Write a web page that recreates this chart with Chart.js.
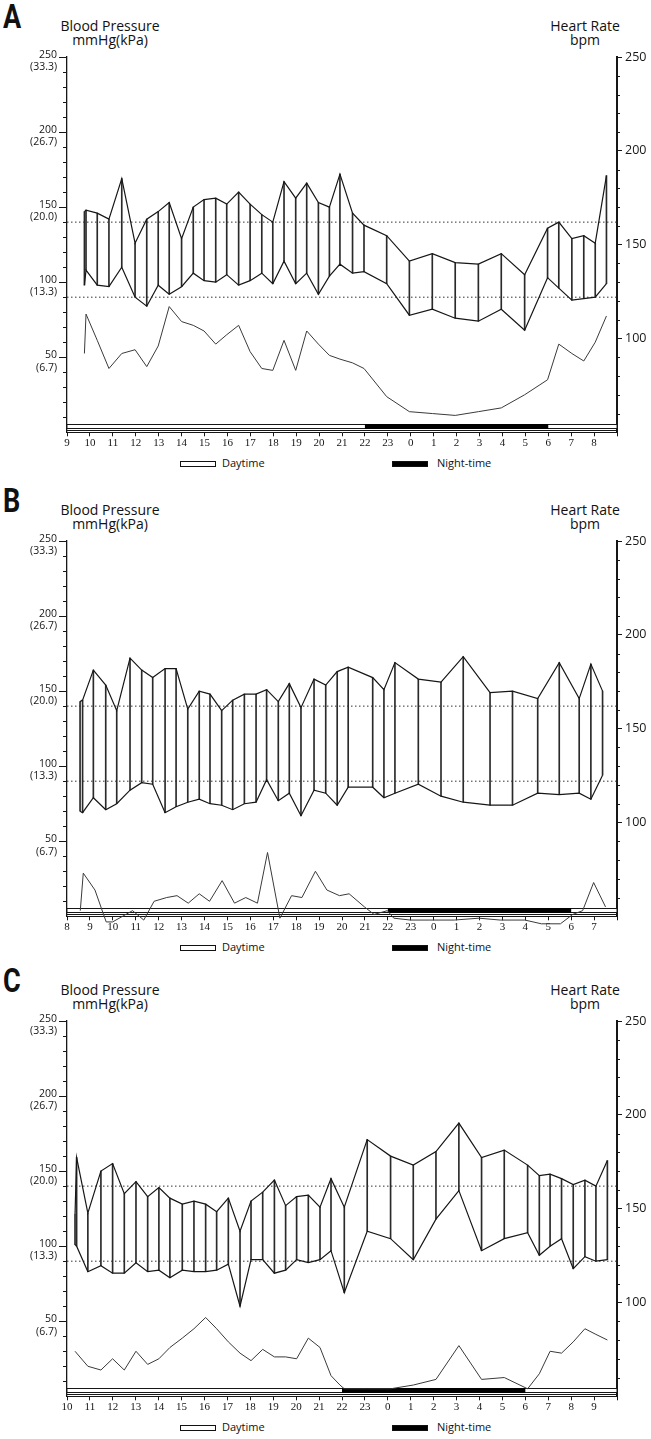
<!DOCTYPE html>
<html lang="en">
<head>
<meta charset="UTF-8">
<title>Ambulatory Blood Pressure and Heart Rate</title>
<style>
  html, body { margin: 0; padding: 0; background: #fff; }
  body {
    width: 651px; height: 1439px; position: relative; overflow: hidden;
    font-family: "Open Sans", "DejaVu Sans", sans-serif; color: #111;
  }
  .panel { position: absolute; left: 0; width: 651px; height: 484px; }
  .panel canvas { position: absolute; left: 0; top: 0; }
  .letter {
    position: absolute; left: 3px; top: -3px;
    font: bold 33px "Roboto", sans-serif; transform: scaleX(0.82); transform-origin: left top;
  }
  .ttl { position: absolute; top: 19px; width: 130px; font-size: 14px; line-height: 14px; text-align: center; }
  .lg { position: absolute; top: 456px; font-size: 11px; line-height: 14px; }
  .box { position: absolute; top: 461px; width: 34px; height: 4px; border: 1px solid #111; }
</style>
</head>
<body>
<script src="https://cdn.jsdelivr.net/npm/chart.js"></script>
<script>
  // ---- panel A (starts 09:00) ----
  const aTimes = [9.76, 9.83, 10.32, 10.83, 11.39, 11.97, 12.48, 12.98, 13.46, 14.0, 14.51, 14.98, 15.49, 15.97, 16.49, 16.99, 17.5, 17.98, 18.47, 18.98, 19.46, 19.97, 20.45, 20.91, 21.46, 21.96, 22.95, 23.94, 24.94, 25.94, 26.95, 27.95, 28.97, 29.97, 30.46, 31.03, 31.55, 32.05, 32.54];
  const aSys = [147, 148, 146, 142, 169, 126, 142, 147, 153, 129, 150, 155, 156, 152, 160, 152, 145, 140, 167, 156, 166, 153, 150, 172, 146, 138, 131, 114, 119, 113, 112, 119, 105, 136, 140, 129, 131, 126, 171];
  const aDia = [98, 108, 98, 97, 110, 90, 84, 98, 92, 97, 106, 101, 100, 105, 98, 101, 106, 99, 114, 99, 106, 92, 104, 112, 106, 107, 99, 78, 82, 76, 74, 82, 68, 103, 96, 88, 89, 90, 99];
  const aHr = [92, 113, 99, 84, 92, 94, 85, 96, 117, 109, 107, 104, 97, 102, 107, 93, 84, 83, 99, 83, 104, 97, 91, 89, 87, 84, 69, 61, 60, 59, 61, 63, 70, 78, 97, 92, 88, 98, 112];

  // ---- panel B (starts 08:00) ----
  const bTimes = [8.57, 8.68, 9.15, 9.69, 10.17, 10.75, 11.26, 11.74, 12.28, 12.76, 13.27, 13.77, 14.24, 14.75, 15.23, 15.74, 16.25, 16.71, 17.22, 17.70, 18.21, 18.78, 19.29, 19.79, 20.27, 21.34, 21.83, 22.31, 23.33, 24.32, 25.29, 26.46, 27.44, 28.54, 29.48, 30.35, 30.86, 31.37];
  const bSys = [143, 144, 164, 154, 137, 172, 164, 159, 165, 165, 138, 150, 148, 137, 144, 148, 148, 151, 143, 155, 139, 158, 154, 163, 166, 159, 151, 169, 158, 156, 173, 149, 150, 145, 169, 145, 168, 150];
  const bDia = [70, 69, 79, 71, 75, 84, 89, 88, 69, 73, 76, 78, 75, 74, 71, 75, 76, 91, 77, 82, 67, 84, 82, 74, 86, 86, 79, 82, 88, 80, 76, 74, 74, 82, 81, 82, 78, 94];
  const bHrTimes = [8.58, 8.71, 9.22, 9.71, 9.99, 10.86, 11.35, 11.8, 12.35, 12.8, 13.29, 13.77, 14.22, 14.77, 15.31, 15.8, 16.31, 16.75, 17.29, 17.8, 18.25, 18.84, 19.34, 19.89, 20.31, 20.98, 21.4, 21.98, 22.26, 22.98, 23.8, 24.9, 25.98, 26.9, 27.98, 28.7, 29.53, 30.07, 30.5, 30.98, 31.5];
  const bHr = [53, 73, 64, 47, 47, 53, 48, 58, 60, 61, 57, 62, 58, 69, 57, 60, 57, 84, 49, 61, 60, 74, 64, 61, 62, 55, 51, 53, 49, 48, 48, 48, 49, 48, 48, 46, 46, 51, 53, 68, 55];

  // ---- panel C (starts 10:00) ----
  const cTimes = [10.35, 10.42, 10.91, 11.48, 11.99, 12.5, 13.01, 13.52, 14.01, 14.49, 15.03, 15.54, 16.05, 16.53, 17.04, 17.55, 18.03, 18.54, 19.05, 19.54, 20.02, 20.53, 21.04, 21.52, 22.1, 23.1, 24.12, 25.11, 26.1, 27.1, 28.09, 29.08, 30.1, 30.61, 31.08, 31.58, 32.09, 32.6, 33.08, 33.58];
  const cSys = [121, 159, 122, 150, 155, 135, 143, 133, 139, 132, 128, 130, 128, 123, 132, 110, 130, 136, 144, 127, 133, 134, 126, 145, 126, 171, 160, 154, 163, 182, 159, 164, 154, 147, 148, 145, 141, 144, 140, 157];
  const cDia = [101, 100, 83, 87, 82, 82, 89, 83, 84, 79, 84, 83, 83, 84, 88, 60, 91, 91, 82, 84, 91, 89, 91, 97, 69, 110, 105, 91, 118, 137, 97, 105, 109, 94, 100, 105, 85, 93, 90, 91];
  const cHrTimes = [10.35, 10.91, 11.48, 11.99, 12.5, 13.01, 13.52, 14.01, 14.49, 15.03, 15.54, 16.05, 16.53, 17.04, 17.55, 18.03, 18.54, 19.05, 19.54, 20.02, 20.53, 21.04, 21.52, 21.91, 22.1, 23.1, 24.12, 25.11, 26.1, 27.1, 28.09, 29.08, 30.1, 30.61, 31.08, 31.58, 32.09, 32.6, 33.08, 33.58];
  const cHr = [74, 66, 64, 70, 64, 74, 67, 70, 76, 81, 86, 92, 86, 79, 73, 69, 75, 71, 71, 70, 81, 76, 61, 56, 54, 54, 54, 56, 59, 77, 59, 60, 54, 62, 74, 73, 79, 86, 83, 80];

  const bpThresholds = [140, 90];     // dotted reference lines, mmHg
  const nightHours = [22, 30];        // 22:00 -> 06:00 next day
  const bpTicks = [50, 100, 150, 200, 250];
  const kpaLabels = ['(6.7)', '(13.3)', '(20.0)', '(26.7)', '(33.3)'];
  const hrTicks = [100, 150, 200, 250];

  const panels = [
    { letter: 'A', top: 0,   start: 9,  times: aTimes, sys: aSys, dia: aDia, hrTimes: aTimes,   hr: aHr },
    { letter: 'B', top: 484, start: 8,  times: bTimes, sys: bSys, dia: bDia, hrTimes: bHrTimes, hr: bHr },
    { letter: 'C', top: 964, start: 10, times: cTimes, sys: cSys, dia: cDia, hrTimes: cHrTimes, hr: cHr }
  ];

  const INK = '#161616';

  // time bar + minor ticks drawn from the chart's own scales
  const decor = {
    id: 'decor',
    beforeDatasetsDraw(chart) {
      const { ctx, chartArea: a, scales: { x, y, y2 } } = chart;
      ctx.save();
      ctx.strokeStyle = INK;
      ctx.lineWidth = 1;
      const bt = Math.round(a.bottom) - 7.5;
      ctx.fillStyle = '#fff';
      ctx.fillRect(a.left, bt, a.right - a.left, 4);
      ctx.strokeRect(a.left, bt, a.right - a.left, 4);
      const n0 = x.getPixelForValue(nightHours[0]), n1 = x.getPixelForValue(nightHours[1]);
      ctx.fillStyle = '#000';
      ctx.fillRect(n0, bt - 0.5, n1 - n0, 5);
      ctx.beginPath();
      ctx.moveTo(a.left, bt + 6); ctx.lineTo(a.right, bt + 6);
      ctx.stroke();
      // minor ticks
      ctx.beginPath();
      for (let v = 10; v < 250; v += 10) {
        if (v % 50 === 0) continue;
        const py = Math.round(y.getPixelForValue(v)) + 0.5;
        ctx.moveTo(a.left - 4, py); ctx.lineTo(a.left, py);
      }
      for (let v = 60; v < 250; v += 10) {
        if (v % 50 === 0) continue;
        const py = Math.round(y2.getPixelForValue(v)) + 0.5;
        ctx.moveTo(a.right, py); ctx.lineTo(a.right + 3, py);
      }
      ctx.stroke();
      ctx.restore();
    }
  };

  function makePanel(p) {
    const div = document.createElement('div');
    div.className = 'panel';
    div.style.top = p.top + 'px';
    div.innerHTML =
      '<div class="letter">' + p.letter + '</div>' +
      '<div class="ttl" style="left:45px">Blood Pressure<br>mmHg(kPa)</div>' +
      '<div class="ttl" style="left:520px">Heart Rate<br>bpm</div>' +
      '<div class="box" style="left:180px;background:#fff"></div>' +
      '<div class="lg" style="left:222px">Daytime</div>' +
      '<div class="box" style="left:392px;background:#000"></div>' +
      '<div class="lg" style="left:437px">Night-time</div>';
    const cv = document.createElement('canvas');
    cv.width = 651; cv.height = 455;
    div.appendChild(cv);
    document.body.appendChild(div);

    const end = p.start + 24;
    const lineDs = (data, axis, extra) => Object.assign({
      type: 'line', data, yAxisID: axis, borderColor: INK, borderWidth: 1.2,
      pointRadius: 0, tension: 0, fill: false
    }, extra || {});

    const datasets = [
      {
        type: 'bar', yAxisID: 'y', order: 5,
        data: p.times.map((t, i) => ({ x: t, y: [p.dia[i], p.sys[i]] })),
        backgroundColor: '#2a2a2a', barThickness: 1, grouped: false
      },
      lineDs(p.times.map((t, i) => ({ x: t, y: p.sys[i] })), 'y'),
      lineDs(p.times.map((t, i) => ({ x: t, y: p.dia[i] })), 'y'),
      lineDs(p.hrTimes.map((t, i) => ({ x: t, y: p.hr[i] })), 'y2', { borderColor: '#3a3a3a', borderWidth: 1, clip: false })
    ];
    bpThresholds.forEach(v => datasets.push(lineDs(
      [{ x: p.start, y: v }, { x: end, y: v }], 'y',
      { borderColor: '#333', borderWidth: 1, borderDash: [1.5, 2.5] })));

    new Chart(cv.getContext('2d'), {
      type: 'line',
      data: { datasets },
      options: {
        responsive: false, animation: false, devicePixelRatio: 1,
        layout: { padding: { top: 57, left: 0, right: 0, bottom: 0 } },
        plugins: { legend: { display: false }, tooltip: { enabled: false } },
        scales: {
          x: {
            type: 'linear', min: p.start, max: end, offset: false,
            afterFit: s => { s.height = 22.7; },
            grid: { drawOnChartArea: false, offset: false, tickLength: 4, color: INK },
            border: { color: INK, width: 1 },
            ticks: {
              stepSize: 1, autoSkip: false, maxRotation: 0, padding: 0, color: INK,
              font: { family: '"Liberation Serif", serif', size: 11 },
              callback: v => v >= end ? '' : String(v % 24)
            }
          },
          y: {
            position: 'left', min: 0, max: 250,
            afterFit: s => { s.width = 67; },
            afterBuildTicks: s => { s.ticks = bpTicks.map(v => ({ value: v })); },
            grid: { drawOnChartArea: false, tickLength: 8, color: INK },
            border: { color: INK, width: 1.3 },
            ticks: {
              padding: 2, color: INK, labelOffset: 4,
              font: { family: '"Open Sans", sans-serif', size: 10.5, lineHeight: 1.2 },
              callback: v => [String(v), kpaLabels[bpTicks.indexOf(v)]]
            }
          },
          y2: {
            position: 'right', min: 50, max: 250,
            afterFit: s => { s.width = 34; },
            afterBuildTicks: s => { s.ticks = hrTicks.map(v => ({ value: v })); },
            grid: { drawOnChartArea: false, tickLength: 5, color: INK },
            border: { color: INK, width: 2 },
            ticks: {
              padding: 3, color: INK,
              font: { family: '"Open Sans", sans-serif', size: 12.5 }
            }
          }
        }
      },
      plugins: [decor]
    });
  }

  panels.forEach(makePanel);
</script>
</body>
</html>
